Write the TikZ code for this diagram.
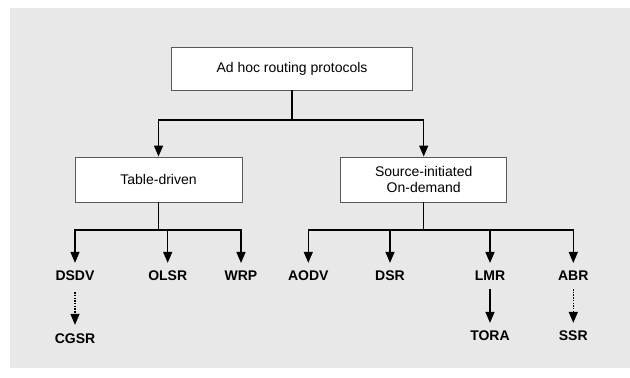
\documentclass[tikz,border=0pt]{standalone}
\usepackage{fontspec}
\setmainfont{Liberation Sans}
\usetikzlibrary{arrows.meta}
\begin{document}
\begin{tikzpicture}[x=1pt,y=-1pt,
  box/.style={draw=black!65, line width=0.9pt, fill=white, align=center, font=\fontsize{14}{16.5}\selectfont, inner sep=0pt},
  leaf/.style={font=\fontsize{14}{16}\selectfont\bfseries, inner sep=1pt},
  conn/.style={line width=1.4pt, black},
  arr/.style={conn, -{Triangle[width=9pt,length=11pt]}},
  darr/.style={arr, dash pattern=on 1.5pt off 1.2pt}
]
\useasboundingbox (0,0) rectangle (630,378);
\fill[black!9] (10,8) rectangle (630,368);

\node[box, minimum width=241pt, minimum height=43pt] (top) at (292,68.5) {Ad hoc routing protocols};
\node[box, minimum width=167pt, minimum height=45pt] (td) at (158.5,179.5) {Table-driven};
\node[box, minimum width=166pt, minimum height=45pt] (sd) at (423.7,179.5) {Source-initiated\\On-demand};

\node[leaf] (dsdv) at (75,276) {DSDV};
\node[leaf] (olsr) at (167.7,276) {OLSR};
\node[leaf] (wrp) at (241,276) {WRP};
\node[leaf] (aodv) at (308.3,276) {AODV};
\node[leaf] (dsr) at (390,276) {DSR};
\node[leaf] (lmr) at (490,276) {LMR};
\node[leaf] (abr) at (573.3,276) {ABR};
\node[leaf] (cgsr) at (75,339) {CGSR};
\node[leaf] (tora) at (490,336) {TORA};
\node[leaf] (ssr) at (573.3,336) {SSR};

\coordinate (j0) at (292,120);
\coordinate (j1) at (158.5,230);
\coordinate (j2) at (423.7,230);

\draw[conn] (top.south) -- (j0);
\draw[arr] (j0) -| (td.north);
\draw[arr] (j0) -| (sd.north);

\draw[conn] (td.south) -- (j1);
\draw[arr] (j1) -| ([yshift=7pt]dsdv.north);
\draw[arr] (j1) -| ([yshift=7pt]olsr.north);
\draw[arr] (j1) -| ([yshift=7pt]wrp.north);

\draw[conn] (sd.south) -- (j2);
\draw[arr] (j2) -| ([yshift=7pt]aodv.north);
\draw[arr] (j2) -| ([yshift=7pt]dsr.north);
\draw[arr] (j2) -| ([yshift=7pt]lmr.north);
\draw[arr] (j2) -| ([yshift=7pt]abr.north);

\draw[darr] ([yshift=-10pt]dsdv.south) -- ([yshift=8pt]cgsr.north);
\draw[arr] ([yshift=-7pt]lmr.south) -- ([yshift=7pt]tora.north);
\draw[darr] ([yshift=-7pt]abr.south) -- ([yshift=7pt]ssr.north);
\end{tikzpicture}
\end{document}
